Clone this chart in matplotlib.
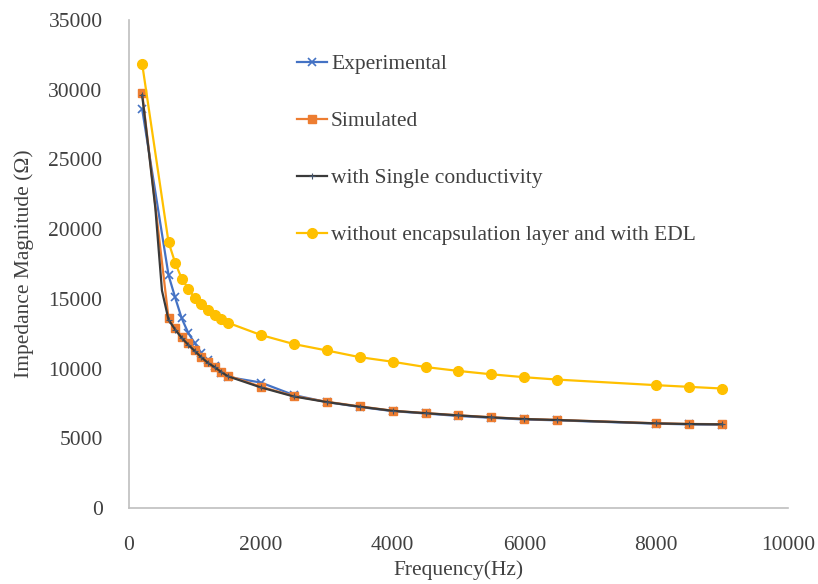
import numpy as np
import matplotlib.pyplot as plt

# Frequency sweep (Hz) shared by the measured / simulated series
freq = [200, 600, 700, 800, 900, 1000, 1100, 1200, 1300, 1400, 1500,
        2000, 2500, 3000, 3500, 4000, 4500, 5000, 5500, 6000, 6500,
        8000, 8500, 9000]

experimental = [28600, 16700, 15100, 13600, 12550, 11800, 11100, 10600,
                10150, 9700, 9400, 9000, 8100, 7600, 7250, 6950, 6780,
                6600, 6470, 6350, 6290, 6050, 6000, 5980]

simulated = [29750, 13600, 12900, 12300, 11800, 11330, 10850, 10450,
             10140, 9780, 9500, 8700, 8030, 7620, 7290, 6980, 6810,
             6650, 6510, 6390, 6320, 6080, 6030, 6010]

# single-conductivity model was solved on a finer low-frequency grid
freq_single = [200, 300, 400, 500, 600, 700, 800, 900, 1000, 1100, 1200,
               1300, 1400, 1500, 2000, 2500, 3000, 3500, 4000, 4500, 5000,
               5500, 6000, 6500, 8000, 8500, 9000]
single_cond = [29600, 25600, 21500, 15600, 13500, 12800, 12200, 11700,
               11250, 10800, 10400, 10100, 9750, 9450, 8650, 8000, 7600,
               7270, 6970, 6800, 6640, 6500, 6380, 6310, 6070, 6020, 6000]

no_encap_edl = [31850, 19060, 17600, 16450, 15730, 15040, 14610, 14200,
                13820, 13580, 13290, 12410, 11760, 11300, 10820, 10490,
                10110, 9830, 9590, 9380, 9210, 8810, 8690, 8570]

plt.rcParams['font.family'] = ['Liberation Serif', 'DejaVu Serif']
FS = 15.5
TXT = '#404040'

fig = plt.figure(figsize=(8.18, 5.84), dpi=100)
ax = fig.add_axes([0.1577, 0.1301, 0.8056, 0.8357])

ax.plot(freq, experimental, color='#4472C4', lw=1.6, marker='x',
        ms=6, mew=1.2, label='Experimental')
ax.plot(freq, simulated, color='#ED7D31', lw=1.6, marker='s',
        ms=6, label='Simulated')
# markers only on the common sweep points
shared = [i for i, f in enumerate(freq_single) if f in freq]
ax.plot(freq_single, single_cond, color='#3A3A3A', lw=1.6, marker='+',
        ms=4, mew=0.8, mec='#44546A', markevery=shared,
        label='with Single conductivity')
ax.plot(freq, no_encap_edl, color='#FFC000', lw=1.6, marker='o',
        ms=7, label='without encapsulation layer and with EDL')

ax.set_xlim(0, 10000)
ax.set_ylim(0, 35000)
ax.set_xticks(np.arange(0, 10001, 2000))
ax.set_yticks(np.arange(0, 35001, 5000))

for side in ['top', 'right']:
    ax.spines[side].set_visible(False)
for side in ['left', 'bottom']:
    ax.spines[side].set_color('#BFBFBF')
    ax.spines[side].set_linewidth(1.2)

ax.tick_params(length=0, labelsize=FS, colors=TXT)
ax.tick_params(axis='y', pad=19)
ax.tick_params(axis='x', pad=20)

ax.set_xlabel('Frequency(Hz)', fontsize=FS, color=TXT, labelpad=4)
ax.set_ylabel('Impedance Magnitude (\u03a9)', fontsize=FS, color=TXT,
              labelpad=10)

leg = ax.legend(loc='upper left', bbox_to_anchor=(0.225, 0.97),
                frameon=False, fontsize=FS, handlelength=1.4,
                handletextpad=0.2, labelspacing=1.72)
for t in leg.get_texts():
    t.set_color(TXT)

fig.savefig('out.png', dpi=100)
